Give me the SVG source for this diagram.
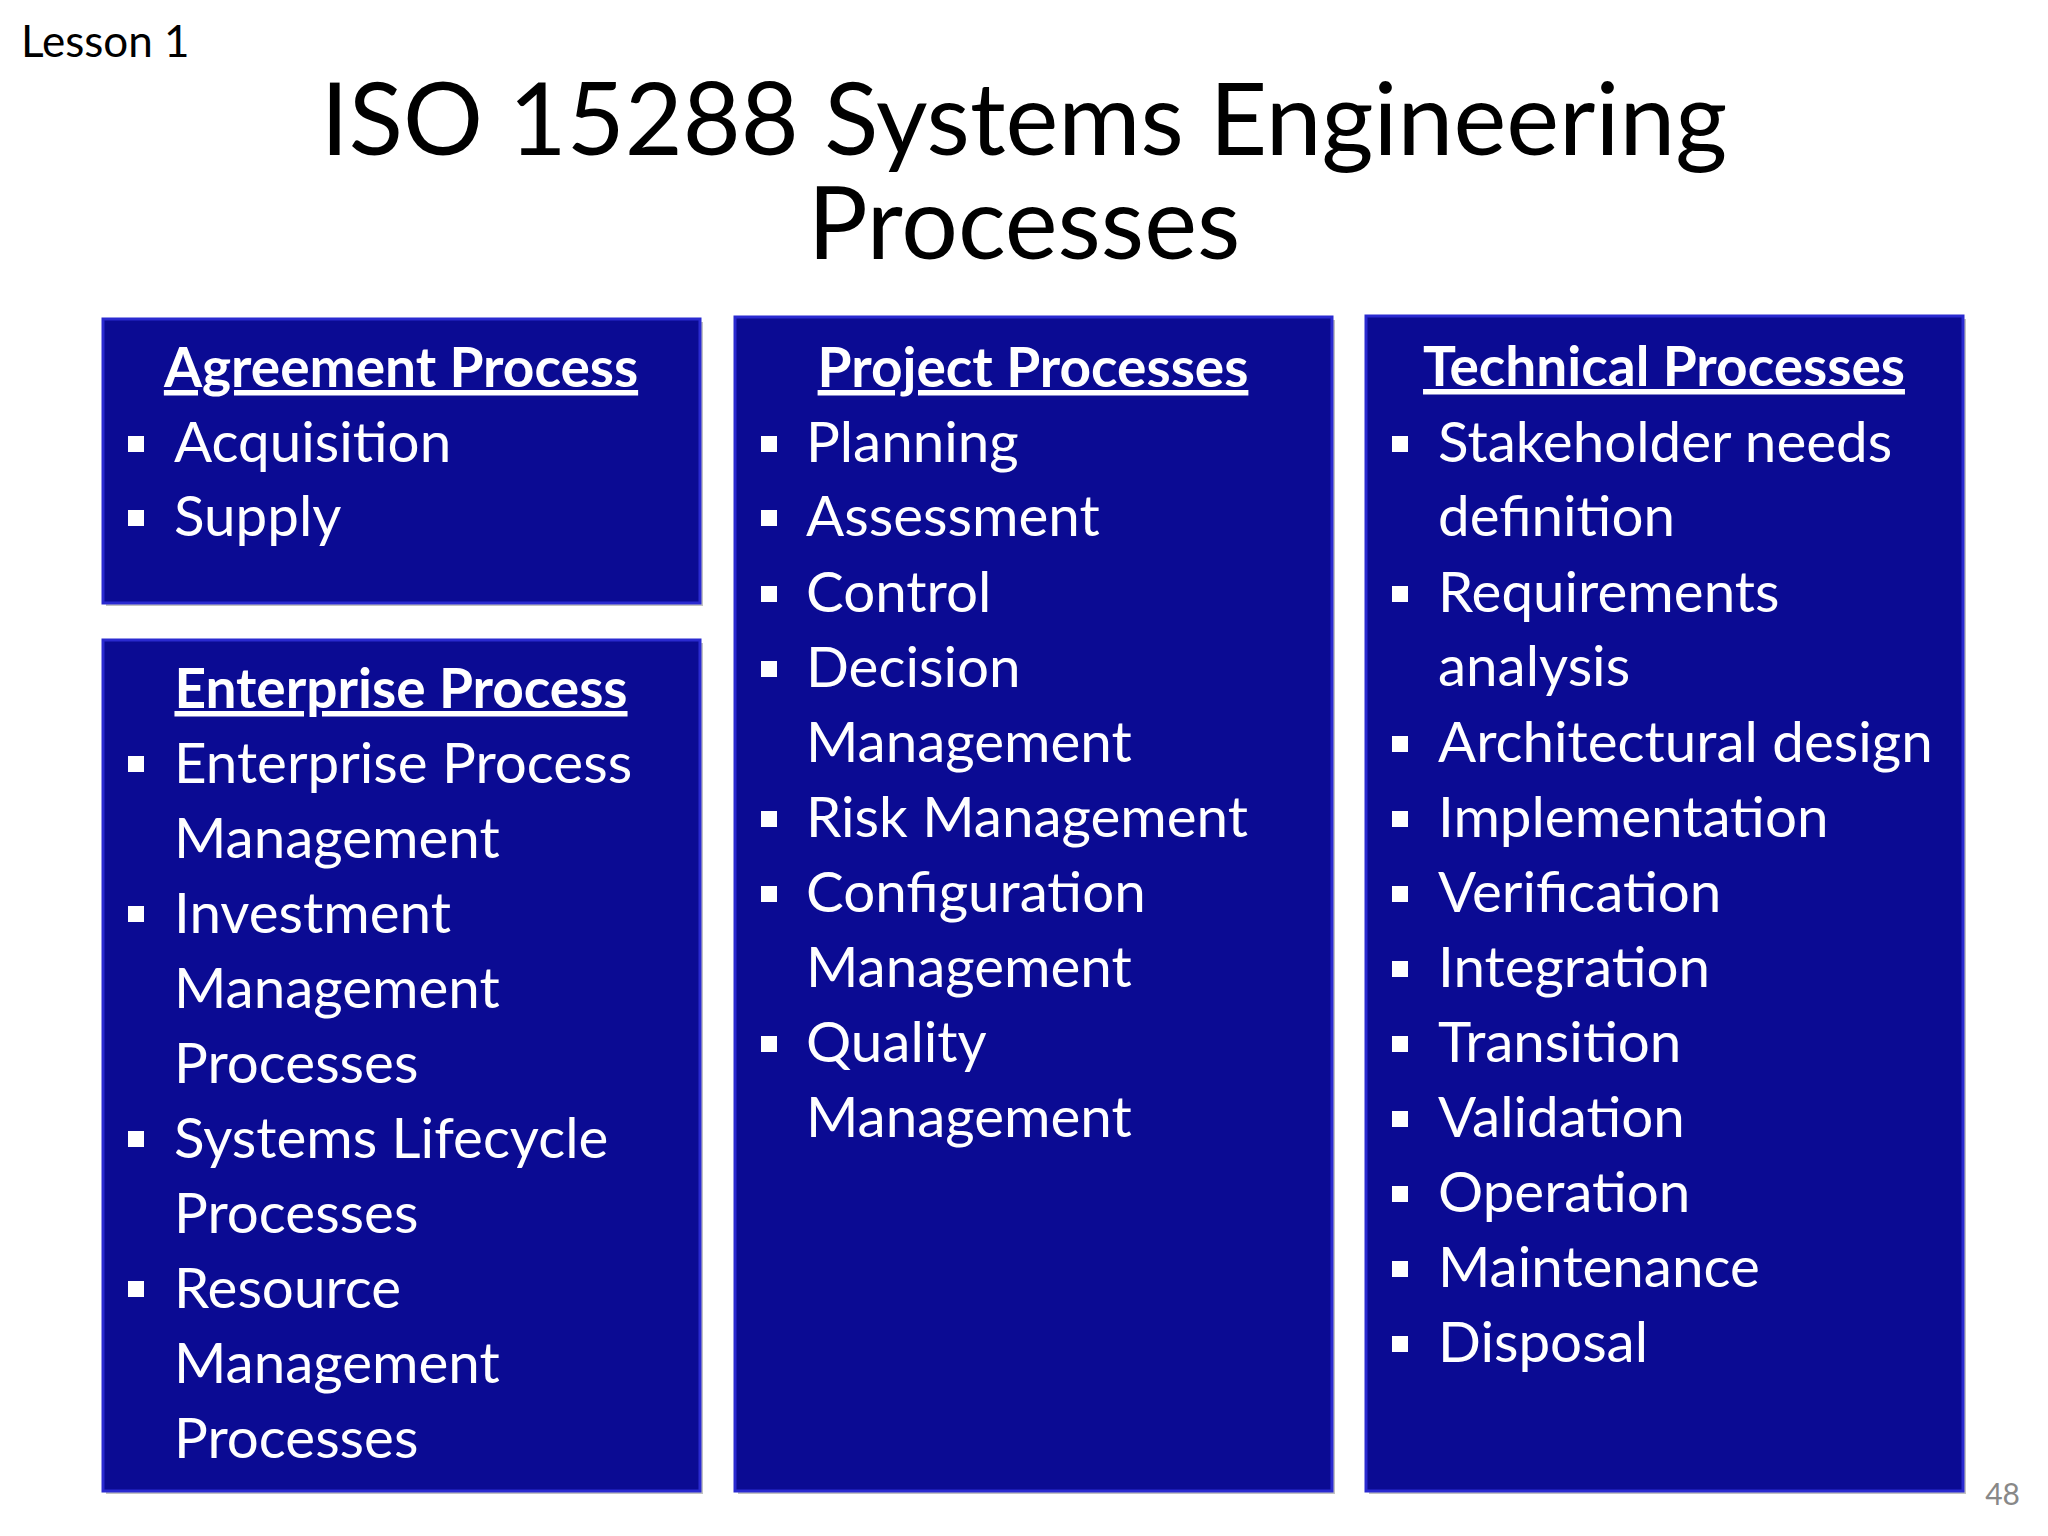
<svg xmlns="http://www.w3.org/2000/svg" width="2048" height="1536" viewBox="0 0 2048 1536">
<defs>
<style>
.box{fill:#0b0b93;stroke:#2a2ad0;stroke-width:3}
.sh{fill:#9a9a9a;opacity:0.6}
.h{font-family:Lato,"Open Sans",sans-serif;font-weight:bold;font-size:55px;fill:#fff;text-anchor:middle;text-decoration:underline}
.t{font-family:Lato,"Open Sans",sans-serif;font-size:56.5px;fill:#fff}
.b{fill:#fff}
</style>
</defs>
<rect width="2048" height="1536" fill="#fff"/>
<text x="21" y="57" font-family="Lato,'Open Sans',sans-serif" font-size="44" fill="#000">Lesson 1</text>
<text x="1024" y="155" font-family="Lato,'Open Sans',sans-serif" font-size="100" fill="#000" text-anchor="middle">ISO 15288 Systems Engineering</text>
<text x="1024" y="259" font-family="Lato,'Open Sans',sans-serif" font-size="100" fill="#000" text-anchor="middle">Processes</text>
<text x="2020" y="1505" font-family="Lato,'Open Sans',sans-serif" font-size="30" fill="#888" text-anchor="end">48</text>

<g id="agreement">
<rect class="sh" x="106" y="322" width="597" height="284"/>
<rect class="box" x="103" y="319" width="597" height="284"/>
<text class="h" x="401" y="387">Agreement Process</text>
<rect class="b" x="128" y="436" width="16" height="16"/><text class="t" x="174" y="462">Acquisition</text>
<rect class="b" x="128" y="510" width="16" height="16"/><text class="t" x="174" y="536">Supply</text>
</g>

<g id="enterprise">
<rect class="sh" x="106" y="643" width="597" height="851"/>
<rect class="box" x="103" y="640" width="597" height="851"/>
<text class="h" x="401" y="708">Enterprise Process</text>
<rect class="b" x="128" y="756" width="16" height="16"/><text class="t" x="174" y="783">Enterprise Process</text>
<text class="t" x="174" y="858">Management</text>
<rect class="b" x="128" y="906" width="16" height="16"/><text class="t" x="174" y="933">Investment</text>
<text class="t" x="174" y="1008">Management</text>
<text class="t" x="174" y="1083">Processes</text>
<rect class="b" x="128" y="1131" width="16" height="16"/><text class="t" x="174" y="1158">Systems Lifecycle</text>
<text class="t" x="174" y="1233">Processes</text>
<rect class="b" x="128" y="1281" width="16" height="16"/><text class="t" x="174" y="1308">Resource</text>
<text class="t" x="174" y="1383">Management</text>
<text class="t" x="174" y="1458">Processes</text>
</g>

<g id="project">
<rect class="sh" x="738" y="320" width="597" height="1174"/>
<rect class="box" x="735" y="317" width="597" height="1174"/>
<text class="h" x="1033" y="387">Project Processes</text>
<rect class="b" x="761" y="436" width="16" height="16"/><text class="t" x="806" y="462">Planning</text>
<rect class="b" x="761" y="510" width="16" height="16"/><text class="t" x="806" y="536">Assessment</text>
<rect class="b" x="761" y="586" width="16" height="16"/><text class="t" x="806" y="612">Control</text>
<rect class="b" x="761" y="661" width="16" height="16"/><text class="t" x="806" y="687">Decision</text>
<text class="t" x="806" y="762">Management</text>
<rect class="b" x="761" y="811" width="16" height="16"/><text class="t" x="806" y="837">Risk Management</text>
<rect class="b" x="761" y="886" width="16" height="16"/><text class="t" x="806" y="912">Configuration</text>
<text class="t" x="806" y="987">Management</text>
<rect class="b" x="761" y="1036" width="16" height="16"/><text class="t" x="806" y="1062">Quality</text>
<text class="t" x="806" y="1137">Management</text>
</g>

<g id="technical">
<rect class="sh" x="1369" y="319" width="597" height="1175"/>
<rect class="box" x="1366" y="316" width="597" height="1175"/>
<text class="h" x="1664" y="386">Technical Processes</text>
<rect class="b" x="1392" y="436" width="16" height="16"/><text class="t" x="1438" y="462">Stakeholder needs</text>
<text class="t" x="1438" y="536">definition</text>
<rect class="b" x="1392" y="586" width="16" height="16"/><text class="t" x="1438" y="612">Requirements</text>
<text class="t" x="1438" y="686">analysis</text>
<rect class="b" x="1392" y="736" width="16" height="16"/><text class="t" x="1438" y="762">Architectural design</text>
<rect class="b" x="1392" y="811" width="16" height="16"/><text class="t" x="1438" y="837">Implementation</text>
<rect class="b" x="1392" y="886" width="16" height="16"/><text class="t" x="1438" y="912">Verification</text>
<rect class="b" x="1392" y="961" width="16" height="16"/><text class="t" x="1438" y="987">Integration</text>
<rect class="b" x="1392" y="1036" width="16" height="16"/><text class="t" x="1438" y="1062">Transition</text>
<rect class="b" x="1392" y="1111" width="16" height="16"/><text class="t" x="1438" y="1137">Validation</text>
<rect class="b" x="1392" y="1186" width="16" height="16"/><text class="t" x="1438" y="1212">Operation</text>
<rect class="b" x="1392" y="1261" width="16" height="16"/><text class="t" x="1438" y="1287">Maintenance</text>
<rect class="b" x="1392" y="1336" width="16" height="16"/><text class="t" x="1438" y="1362">Disposal</text>
</g>
<g id="connectors"/>
</svg>
